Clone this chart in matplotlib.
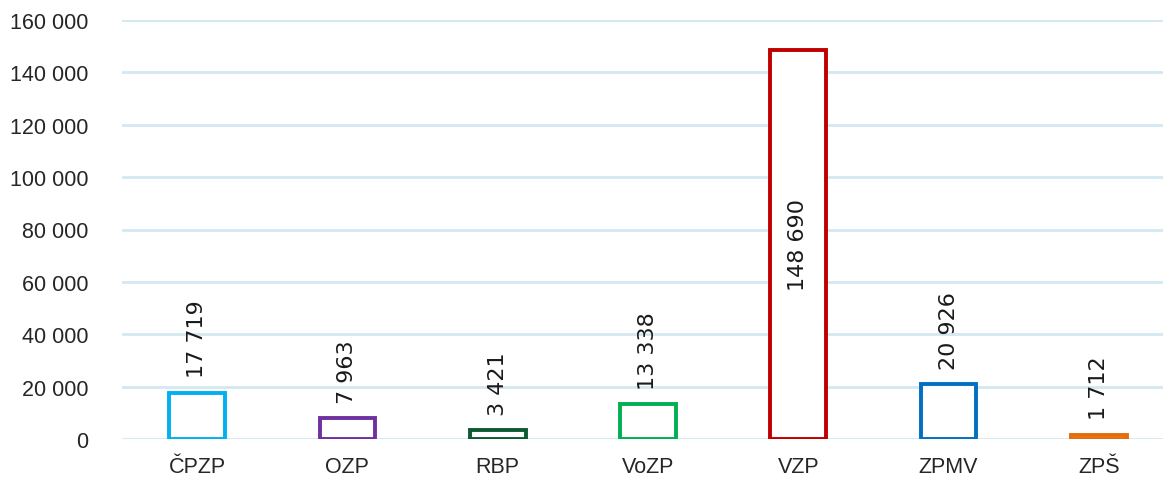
import matplotlib
matplotlib.use("Agg")
import matplotlib.pyplot as plt

categories = ["ČPZP", "OZP", "RBP", "VoZP", "VZP", "ZPMV", "ZPŠ"]
values = [17719, 7963, 3421, 13338, 148690, 20926, 1712]
value_labels = ["17 719", "7 963", "3 421", "13 338", "148 690", "20 926", "1 712"]
colors = ["#00B0F0", "#7030A0", "#0B5A32", "#00B050", "#C00000", "#0070C0", "#E46C0A"]
yticks = [0, 20000, 40000, 60000, 80000, 100000, 120000, 140000, 160000]
ytick_labels = ["0", "20 000", "40 000", "60 000", "80 000", "100 000", "120 000", "140 000", "160 000"]

W, H = 1163, 485
fig = plt.figure(figsize=(W / 100, H / 100), dpi=100)
left, right = 122, 1174
top, bottom = 21, 440
ax = fig.add_axes([left / W, 1 - bottom / H, (right - left) / W, (bottom - top) / H])

x = list(range(len(categories)))
ax.bar(x, values, width=0.37, facecolor="white", edgecolor=colors, linewidth=2.8, zorder=3)

ax.set_xlim(-0.5, len(categories) - 0.5)
ax.set_ylim(0, 160000)
ax.set_yticks(yticks)
ax.set_yticklabels(ytick_labels, fontsize=15.5, color="#262626", family="Liberation Sans")
ax.set_xticks(x)
ax.set_xticklabels(categories, fontsize=15.5, color="#262626", family="Liberation Sans")
ax.tick_params(axis="both", length=0)
ax.tick_params(axis="y", pad=24)
ax.tick_params(axis="x", pad=12)
ax.grid(axis="y", color="#D3E8F0", linewidth=2, zorder=0)
for s in ax.spines.values():
    s.set_visible(False)

for xi, v, lab in zip(x, values, value_labels):
    if v > 100000:
        ax.text(xi, v / 2, lab, rotation=90, ha="center", va="center",
                fontsize=16, color="#1a1a1a", family="DejaVu Sans", zorder=4)
    else:
        ax.annotate(lab, (xi, v), xytext=(0, 11), textcoords="offset points",
                    rotation=90, ha="center", va="bottom",
                    fontsize=16, color="#1a1a1a", family="DejaVu Sans", zorder=4)

fig.savefig("out.png", dpi=100)
